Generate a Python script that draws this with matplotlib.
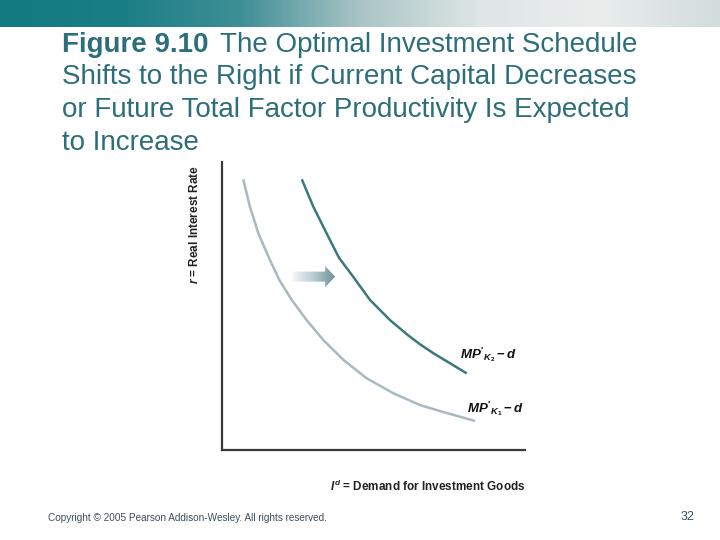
#!/usr/bin/env python3

import matplotlib
matplotlib.use("Agg")
import matplotlib.pyplot as plt
import numpy as np
from matplotlib.patches import Polygon
from matplotlib.colors import LinearSegmentedColormap

# schedule values (axis runs 0..100 both ways)
old_invest = [7.1, 9.3, 12.1, 15.9, 19.0, 23.1, 28.0, 33.5, 40.1, 47.8, 56.6, 65.4, 72.0, 83.5]
old_rate = [94.0, 84.5, 75.2, 66.0, 59.0, 52.1, 45.1, 38.2, 31.3, 24.9, 19.7, 15.6, 13.5, 10.1]

new_invest = [26.4, 30.2, 34.6, 38.7, 43.4, 48.9, 55.5, 61.5, 65.4, 69.8, 80.8]
new_rate = [94.0, 84.5, 75.2, 66.7, 60.1, 52.1, 45.1, 39.8, 36.7, 33.6, 26.6]

title_bold = "Figure 9.10"
title_lines = ["The Optimal Investment Schedule",
               "Shifts to the Right if Current Capital Decreases",
               "or Future Total Factor Productivity Is Expected",
               "to Increase"]


def main():
    plt.rcParams["font.family"] = ["Liberation Sans", "DejaVu Sans"]
    plt.rcParams["mathtext.fontset"] = "custom"
    plt.rcParams["mathtext.it"] = "Liberation Sans:italic:bold"
    plt.rcParams["mathtext.rm"] = "Liberation Sans:bold"
    plt.rcParams["mathtext.bf"] = "Liberation Sans:bold"
    fig = plt.figure(figsize=(7.2, 5.4), dpi=100)

    # banner strip along the top
    banner = fig.add_axes([0, 1 - 27 / 540, 1, 27 / 540])
    cmap_b = LinearSegmentedColormap.from_list(
        "banner", ["#137a82", "#1a7e86", "#3f8f96", "#a9c4c5", "#dfe6e5", "#e9eeed", "#d3dddc"])
    grad = np.linspace(0, 1, 300).reshape(1, -1)
    banner.imshow(grad, aspect="auto", cmap=cmap_b, extent=[0, 1, 0, 1])
    banner.axis("off")

    # title, one text per line
    tcol = "#2d6e7b"
    fs = 20
    fig.text(62 / 720, 1 - 51.7 / 540, title_bold, fontsize=fs, fontweight="bold",
             color=tcol, va="baseline", ha="left")
    fig.text(220 / 720, 1 - 51.7 / 540, title_lines[0], fontsize=fs,
             color=tcol, va="baseline", ha="left")
    for i, line in enumerate(title_lines[1:]):
        fig.text(62 / 720, 1 - (84.5 + 32.8 * i) / 540, line, fontsize=fs,
                 color=tcol, va="baseline", ha="left")

    ax = fig.add_axes([221.7 / 720, 1 - 450 / 540, 303.3 / 720, 288 / 540])
    for side in ("top", "right"):
        ax.spines[side].set_visible(False)
    for side in ("left", "bottom"):
        ax.spines[side].set_color("#3a3a3a")
        ax.spines[side].set_linewidth(1.6)
    ax.set_xticks([])
    ax.set_yticks([])
    ax.patch.set_alpha(0)

    ax.plot(old_invest, old_rate, color="#a9b9bf", lw=1.8, solid_capstyle="butt")
    ax.plot(new_invest, new_rate, color="#3b7880", lw=1.8, solid_capstyle="butt")

    ax.text(78.5, 33, r"$MP'_{K_2} - d$", fontsize=9.5, ha="left", va="center",
            color="#111111")
    ax.text(81, 14.5, r"$MP'_{K_1} - d$", fontsize=9.5, ha="left", va="center",
            color="#111111")

    # shift arrow with a light-to-dark fill
    x0, x1, xh = 23.1, 37.4, 34.1
    yc, hs, hh = 60.2, 1.75, 3.7
    arrow = Polygon([(x0, yc - hs), (xh, yc - hs), (xh, yc - hh), (x1, yc),
                     (xh, yc + hh), (xh, yc + hs), (x0, yc + hs)],
                    closed=True, facecolor="none", edgecolor="none")
    ax.add_patch(arrow)
    cmap_a = LinearSegmentedColormap.from_list("arr", ["#f4f7f8", "#b9cbd0", "#6a8e95"])
    img = ax.imshow(np.linspace(0, 1, 100).reshape(1, -1), cmap=cmap_a, aspect="auto",
                    extent=[x0, x1, yc - hh, yc + hh], zorder=3)
    img.set_clip_path(arrow)
    ax.set_xlim(0, 100)
    ax.set_ylim(0, 100)

    fig.text(195 / 720, 1 - 165 / 540, r"$r$ = Real Interest Rate", rotation=90,
             fontsize=8.5, fontweight="bold", ha="center", va="top", color="#222222")
    fig.text(525 / 720, 1 - 486 / 540, r"$I^d$ = Demand for Investment Goods",
             fontsize=8.5, fontweight="bold", ha="right", va="center", color="#222222")

    fig.text(48 / 720, 1 - 518 / 540,
             "Copyright \u00a9 2005 Pearson Addison-Wesley. All rights reserved.",
             fontsize=7.2, family=["Liberation Sans Narrow", "Liberation Sans"],
             color="#3b4f5a", ha="left", va="center")
    fig.text(694 / 720, 1 - 517 / 540, "32", fontsize=9, color="#3b4f5a",
             ha="right", va="center")

    fig.savefig("out.png", dpi=100)


if __name__ == "__main__":
    main()
